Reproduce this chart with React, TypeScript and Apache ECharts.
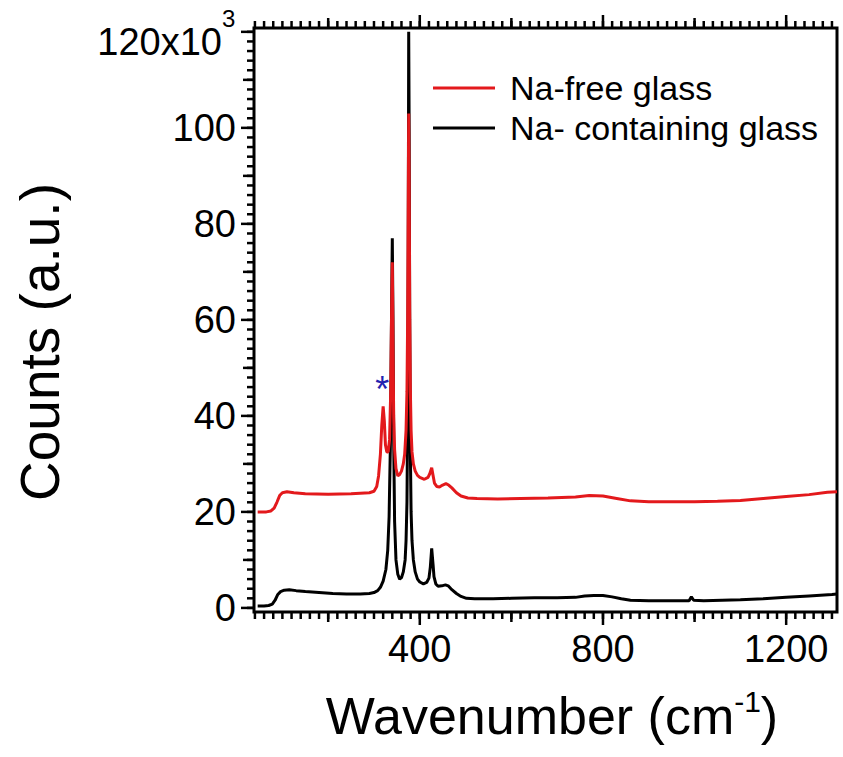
import React, { useEffect, useRef } from "react";
import * as echarts from "echarts";

// Na-containing glass (black)
const blackX = [46, 60, 70, 78, 84, 90, 96, 104, 115, 130, 150, 180, 210, 240, 270, 290, 300, 308, 314, 320, 326, 330, 333, 336, 338, 340, 341.5, 343, 345, 348, 352, 356, 360, 364, 368, 370, 372, 373.5, 374.8, 375.8, 376.8, 378, 379.5, 381, 383, 386, 390, 395, 400, 408, 415, 420, 423, 426, 429, 431, 435, 440, 448, 456, 462, 470, 480, 490, 502, 520, 560, 600, 650, 700, 740, 760, 780, 800, 820, 840, 860, 900, 950, 988, 993, 998, 1020, 1060, 1100, 1150, 1200, 1250, 1300, 1311];
const blackY = [0.4, 0.4, 0.5, 0.8, 1.6, 2.8, 3.4, 3.7, 3.8, 3.6, 3.4, 3.2, 3.0, 2.9, 2.9, 3.0, 3.2, 3.6, 4.3, 5.6, 8, 12, 19, 35, 58, 77, 60, 35, 18, 10, 7, 6, 6.3, 7.5, 10, 14, 22, 40, 75, 120, 100, 60, 32, 20, 14, 10, 7.5, 6, 5.4, 5, 5.3, 6.2, 8.5, 12.4, 9, 6.5, 5, 4.5, 4.6, 4.8, 4.6, 3.8, 3.0, 2.4, 2.0, 1.9, 1.9, 2.0, 2.1, 2.1, 2.2, 2.5, 2.6, 2.6, 2.3, 1.9, 1.6, 1.5, 1.5, 1.5, 2.3, 1.6, 1.5, 1.6, 1.7, 1.9, 2.2, 2.5, 2.8, 2.9];

// Na-free glass (red)
const redX = [46, 65, 75, 82, 88, 94, 100, 110, 125, 150, 200, 250, 290, 300, 306, 310, 314, 317, 320, 322.5, 325, 328, 331, 334, 336.5, 338.5, 340, 341.5, 343, 345, 348, 352, 356, 360, 364, 367, 370, 372, 373.5, 374.8, 375.8, 376.8, 378, 379.5, 381, 383, 386, 390, 395, 400, 410, 418, 422, 426, 429, 432, 437, 443, 450, 457, 463, 470, 480, 490, 505, 525, 570, 620, 680, 740, 770, 800, 830, 860, 900, 950, 1000, 1050, 1100, 1150, 1200, 1250, 1290, 1311];
const redY = [20.0, 20.0, 20.2, 20.8, 22.0, 23.4, 24.0, 24.2, 24.0, 23.8, 23.7, 23.8, 24.0, 24.3, 25.3, 27.5, 32, 38, 42, 39, 34, 32.5, 32.5, 35, 45, 62, 72, 55, 40, 33, 29, 27.5, 27.8, 28.5, 30, 32, 37, 45, 60, 85, 103, 90, 62, 45, 37, 32.5, 30, 28.5, 27.6, 27.2, 26.8, 27.2, 28, 29.2, 27.6, 26, 25.3, 25.2, 25.6, 25.9, 25.6, 25, 24, 23.3, 22.9, 22.8, 22.7, 22.8, 22.9, 23.1, 23.4, 23.3, 22.8, 22.3, 22.1, 22.1, 22.1, 22.2, 22.4, 22.8, 23.2, 23.6, 24.1, 24.2];

const seriesNames = ["Na-free glass", "Na- containing glass"];
const asteriskPoint = [318, 45.5];

// axis ranges, ticks and labels
const xMin = 38;
const xMax = 1311;
const yMin = -0.85;
const yMax = 120.8;
const xLabelValues = [400, 800, 1200];
const xMediumTicks = [200, 600, 1000];
const xMinorTicks: number[] = [];
for (let v = 40; v <= 1300; v += 20) xMinorTicks.push(v);
const yLabelValues = [0, 20, 40, 60, 80, 100];
const yMajorTicks = [0, 20, 40, 60, 80, 100, 120];
const yMediumTicks = [10, 30, 50, 70, 90, 110];
const yMinorTicks: number[] = [];
for (let v = 0; v <= 120; v += 2) yMinorTicks.push(v);
const yTopLabel = "120x10";
const yTopLabelExp = "3";

const FONT = "Liberation Sans, Arial, sans-serif";
const RED = "#e3191c";
const MAJOR_LEN = 13;
const MEDIUM_LEN = 10;
const MINOR_LEN = 7;
const TICK_W = 2.5;

export default function App() {
  const ref = useRef<HTMLDivElement>(null);
  useEffect(() => {
    if (!ref.current) return;
    const chart = echarts.init(ref.current, undefined, { renderer: "svg" });

    const xTickData: number[][] = [];
    xMinorTicks.forEach((v) => xTickData.push([v, yMin, MINOR_LEN]));
    xMediumTicks.forEach((v) => xTickData.push([v, yMin, MEDIUM_LEN]));
    xLabelValues.forEach((v) => xTickData.push([v, yMin, MAJOR_LEN]));
    const yTickData: number[][] = [];
    yMinorTicks.forEach((v) => yTickData.push([xMin, v, MINOR_LEN]));
    yMediumTicks.forEach((v) => yTickData.push([xMin, v, MEDIUM_LEN + 1]));
    yMajorTicks.forEach((v) => yTickData.push([xMin, v, MAJOR_LEN]));

    chart.setOption({
      animation: false,
      backgroundColor: "#fff",
      grid: { left: 254, right: 6, top: 28, bottom: 145, show: true, borderColor: "#000", borderWidth: 3, outerBoundsMode: "none" },
      xAxis: {
        type: "value",
        min: xMin,
        max: xMax,
        axisLine: { show: false },
        axisTick: { show: false },
        axisLabel: {
          show: true,
          customValues: xLabelValues,
          formatter: (v: number) => String(v),
          margin: 18,
          color: "#000",
          fontSize: 38,
          fontFamily: FONT,
        },
        splitLine: { show: false },
      },
      yAxis: {
        type: "value",
        min: yMin,
        max: yMax,
        axisLine: { show: false },
        axisTick: { show: false },
        axisLabel: {
          show: true,
          customValues: yLabelValues,
          formatter: (v: number) => String(v),
          margin: 18,
          color: "#000",
          fontSize: 38,
          fontFamily: FONT,
        },
        splitLine: { show: false },
      },
      legend: {
        data: seriesNames,
        orient: "vertical",
        left: 428,
        top: 66,
        icon: "rect",
        itemWidth: 62,
        itemHeight: 3,
        itemGap: 6,
        textStyle: { color: "#000", fontSize: 34, fontFamily: FONT, lineHeight: 34, padding: [0, 0, 0, 10] },
      },
      series: [
        {
          name: seriesNames[1],
          type: "line",
          symbol: "none",
          color: "#000",
          lineStyle: { color: "#000", width: 3 },
          data: blackX.map((x, i) => [x, blackY[i]]),
          z: 2,
        },
        {
          name: seriesNames[0],
          type: "line",
          symbol: "none",
          color: RED,
          lineStyle: { color: RED, width: 3 },
          data: redX.map((x, i) => [x, redY[i]]),
          z: 3,
          markPoint: {
            symbol: "circle",
            symbolSize: 0,
            silent: true,
            data: [
              {
                coord: asteriskPoint,
                label: { show: true, position: "inside", formatter: "*", color: "#2323b0", fontSize: 36, fontFamily: FONT },
              },
            ],
          },
        },
        {
          type: "custom",
          coordinateSystem: "cartesian2d",
          clip: false,
          z: 5,
          encode: { x: 0, y: 1 },
          data: xTickData,
          renderItem: (_p: any, api: any) => {
            const v = api.value(0);
            const len = api.value(2);
            const b = api.coord([v, yMin]);
            const t = api.coord([v, yMax]);
            return {
              type: "group",
              children: [
                { type: "line", shape: { x1: b[0], y1: b[1], x2: b[0], y2: b[1] + len }, style: { stroke: "#000", lineWidth: TICK_W } },
                { type: "line", shape: { x1: t[0], y1: t[1], x2: t[0], y2: t[1] - len }, style: { stroke: "#000", lineWidth: TICK_W } },
              ],
            };
          },
        },
        {
          type: "custom",
          coordinateSystem: "cartesian2d",
          clip: false,
          z: 5,
          encode: { x: 0, y: 1 },
          data: yTickData,
          renderItem: (_p: any, api: any) => {
            const v = api.value(1);
            const len = api.value(2);
            const p = api.coord([xMin, v]);
            return { type: "line", shape: { x1: p[0], y1: p[1], x2: p[0] - len, y2: p[1] }, style: { stroke: "#000", lineWidth: TICK_W } };
          },
        },
      ],
      graphic: [
        {
          type: "text",
          x: 222,
          y: 42,
          style: { text: yTopLabel, align: "right", verticalAlign: "middle", fontSize: 38, fontFamily: FONT, fill: "#000" },
        },
        {
          type: "text",
          x: 222,
          y: 18,
          style: { text: yTopLabelExp, align: "left", verticalAlign: "middle", fontSize: 24, fontFamily: FONT, fill: "#000" },
        },
        {
          type: "text",
          x: 40,
          y: 342,
          rotation: Math.PI / 2,
          style: {
            text: "Counts (a.u.)",
            align: "center",
            verticalAlign: "middle",
            fontSize: 55,
            fontFamily: FONT,
            fill: "#000",
          },
        },
        {
          type: "text",
          x: 552,
          y: 716,
          style: {
            text: "{a|Wavenumber (cm}{b|-1}{a|)}",
            align: "center",
            verticalAlign: "middle",
            rich: {
              a: { fontSize: 52, fontFamily: FONT, fill: "#000", lineHeight: 60 },
              b: { fontSize: 30, fontFamily: FONT, fill: "#000", verticalAlign: "top", lineHeight: 60 },
            },
          },
        },
      ],
    });
    return () => chart.dispose();
  }, []);
  return <div ref={ref} style={{ position: "fixed", left: 0, top: 0, width: 843, height: 757 }} />;
}
